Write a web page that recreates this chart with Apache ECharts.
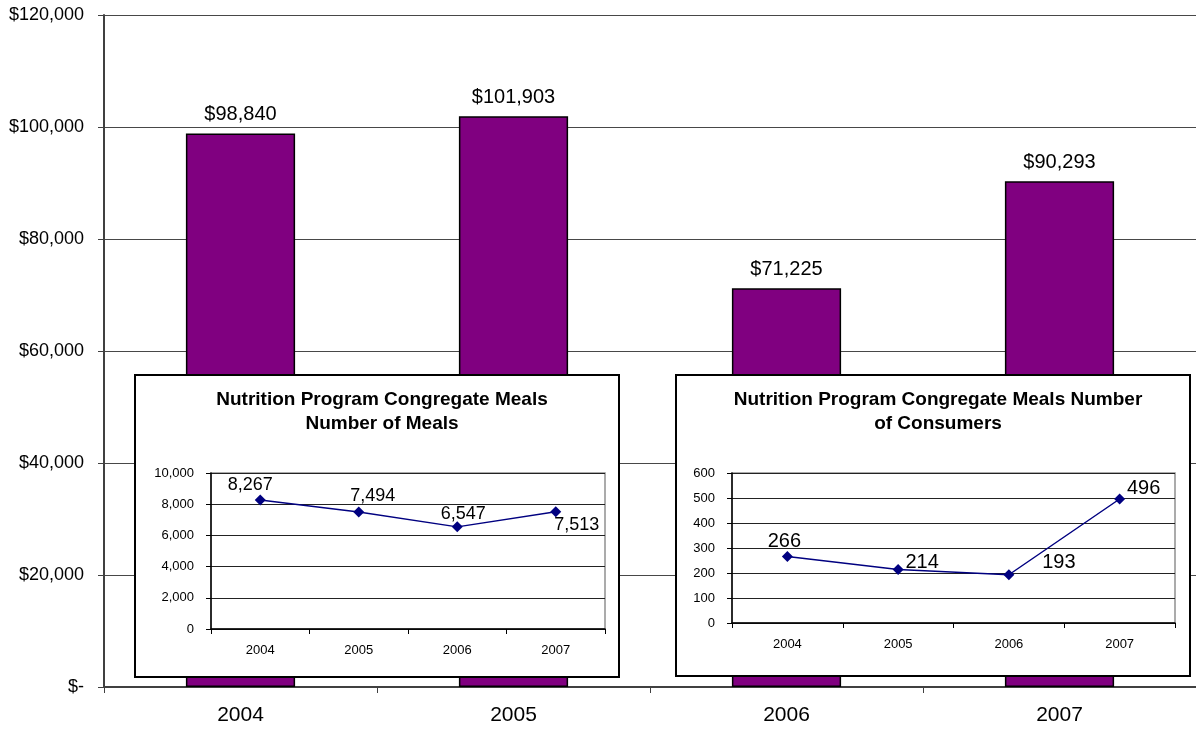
<!DOCTYPE html>
<html>
<head>
<meta charset="utf-8">
<style>
  html, body { margin: 0; padding: 0; background: #fff; }
  #chart { width: 1196px; height: 730px; }
</style>
<script src="https://cdn.jsdelivr.net/npm/echarts@6/dist/echarts.min.js"></script>
</head>
<body>
<div id="chart"></div>
<script>
// Yearly figures
const years = ['2004', '2005', '2006', '2007'];
const fundingDollars = [98840, 101903, 71225, 90293];
const mealsServed = [8267, 7494, 6547, 7513];
const consumersServed = [266, 214, 193, 496];

const mealsTitle = 'Nutrition Program Congregate Meals\nNumber of Meals';
const consumersTitle = 'Nutrition Program Congregate Meals Number\nof Consumers';

const FONT = '"Liberation Sans", Arial, sans-serif';
const fmt = v => v.toLocaleString('en-US');

// label nudges (px) for the small line charts, centred on each point
const mealsLabelShift = [[-10, -15], [14, -16], [6, -13], [21, 13]];
const consumersLabelShift = [[-3, -15], [24, -7], [50, -12], [24, -11]];

const chart = echarts.init(document.getElementById('chart'), null, { renderer: 'canvas' });

function insetAxes(gridIndex, max, interval) {
  return {
    x: {
      type: 'category', gridIndex, data: years, z: 20,
      boundaryGap: true,
      axisLine: { lineStyle: { color: '#000', width: 1.5 } },
      axisTick: { show: true, alignWithLabel: false, length: 5, inside: false, lineStyle: { color: '#000' } },
      axisLabel: { color: '#000', fontFamily: FONT, fontSize: 13, margin: 15 },
      splitLine: { show: false }
    },
    y: {
      type: 'value', gridIndex, min: 0, max, interval, z: 20,
      axisLine: { show: true, lineStyle: { color: '#000', width: 1.5 } },
      axisTick: { show: true, length: 5, lineStyle: { color: '#000' } },
      axisLabel: { color: '#000', fontFamily: FONT, fontSize: 13, margin: 17, formatter: fmt },
      splitLine: { show: true, lineStyle: { color: '#222', width: 1 } }
    }
  };
}

const ax1 = insetAxes(1, 10000, 2000);
const ax2 = insetAxes(2, 600, 100);

function lineSeries(idx, values, shifts, labelSize) {
  return {
    type: 'line', xAxisIndex: idx, yAxisIndex: idx, z: 20,
    data: values.map((v, i) => ({
      value: v,
      label: { offset: shifts[i] }
    })),
    symbol: 'diamond', symbolSize: 11,
    lineStyle: { color: '#000080', width: 1.5 },
    itemStyle: { color: '#000080' },
    label: {
      show: true, position: 'inside', color: '#000',
      fontFamily: FONT, fontSize: labelSize, formatter: p => fmt(p.value)
    },
    animation: false
  };
}

const titleStyle = { fontFamily: FONT, fontWeight: 'bold', fontSize: 19, color: '#000', lineHeight: 24 };

const option = {
  backgroundColor: '#fff',
  animation: false,
  title: [
    { text: mealsTitle, left: 377, top: 383, textAlign: 'center', z: 30, textStyle: titleStyle },
    { text: consumersTitle, left: 933, top: 383, textAlign: 'center', z: 30, textStyle: titleStyle }
  ],
  graphic: [
    { type: 'rect', z: 10, shape: { x: 135, y: 375, width: 484, height: 302 },
      style: { fill: '#fff', stroke: '#000', lineWidth: 2 } },
    { type: 'rect', z: 10, shape: { x: 676, y: 375, width: 514, height: 301 },
      style: { fill: '#fff', stroke: '#000', lineWidth: 2 } }
  ],
  grid: [
    { left: 104, right: 0, top: 15, bottom: 43 },
    { left: 211, right: 591, top: 473, bottom: 101, z: 15, show: true,
      backgroundColor: '#fff', borderColor: '#909090', borderWidth: 1.5 },
    { left: 732, right: 21, top: 473, bottom: 107, z: 15, show: true,
      backgroundColor: '#fff', borderColor: '#909090', borderWidth: 1.5 }
  ],
  xAxis: [
    {
      type: 'category', gridIndex: 0, data: years,
      axisLine: { lineStyle: { color: '#404040', width: 2 } },
      axisTick: { show: true, alignWithLabel: false, length: 6, lineStyle: { color: '#404040', width: 1 } },
      axisLabel: { color: '#000', fontFamily: FONT, fontSize: 21, margin: 18 }
    },
    ax1.x, ax2.x
  ],
  yAxis: [
    {
      type: 'value', gridIndex: 0, min: 0, max: 120000, interval: 20000,
      axisLine: { show: true, lineStyle: { color: '#404040', width: 2 } },
      axisTick: { show: true, length: 6, lineStyle: { color: '#404040', width: 1 } },
      axisLabel: {
        color: '#000', fontFamily: FONT, fontSize: 18, margin: 20,
        formatter: v => v === 0 ? '$-' : '$' + fmt(v)
      },
      splitLine: { show: true, lineStyle: { color: '#484848', width: 1 } }
    },
    ax1.y, ax2.y
  ],
  series: [
    {
      type: 'bar', xAxisIndex: 0, yAxisIndex: 0, z: 2,
      data: fundingDollars,
      barWidth: '40%',
      itemStyle: { color: '#800080', borderColor: '#000', borderWidth: 1.5 },
      label: {
        show: true, position: 'top', distance: 9, color: '#000',
        fontFamily: FONT, fontSize: 20, formatter: p => '$' + fmt(p.value)
      }
    },
    lineSeries(1, mealsServed, mealsLabelShift, 18),
    lineSeries(2, consumersServed, consumersLabelShift, 20)
  ]
};

chart.setOption(option);
</script>
</body>
</html>
